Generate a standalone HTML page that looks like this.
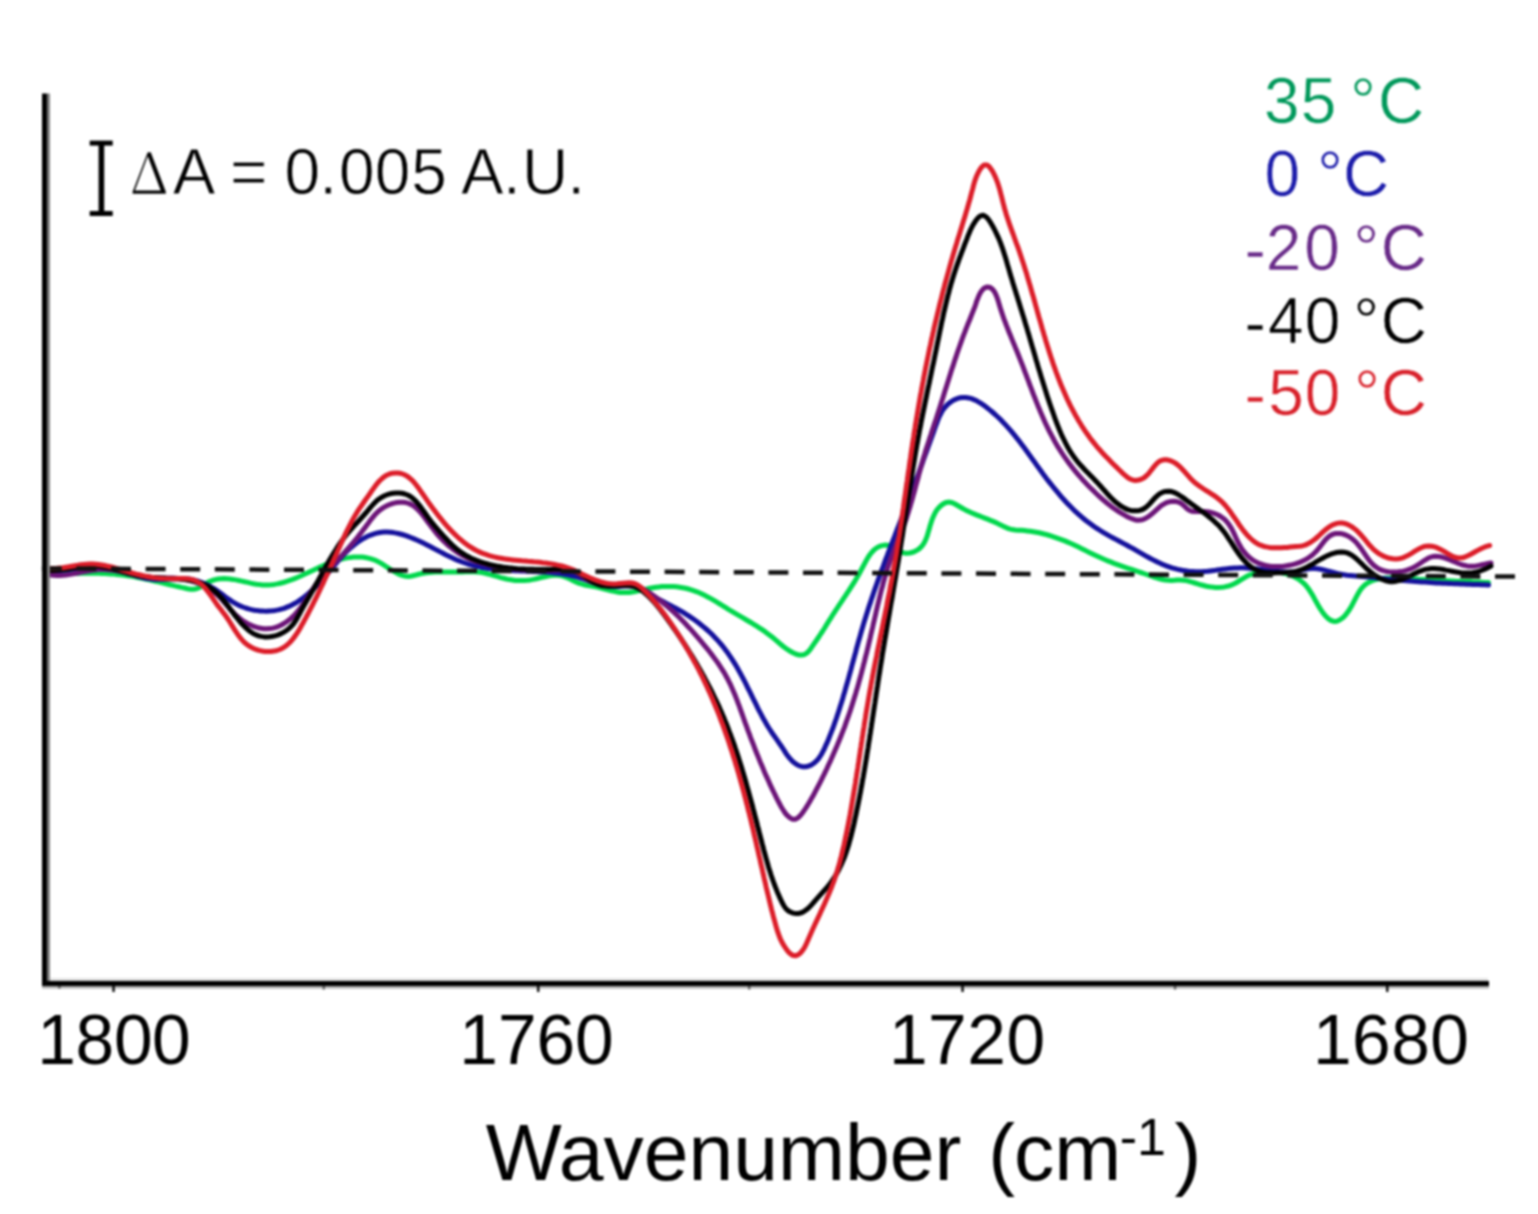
<!DOCTYPE html>
<html><head><meta charset="utf-8"><style>
html,body{margin:0;padding:0;background:#fff;}
svg{display:block;filter:blur(0.9px);}
text{font-family:"Liberation Sans",Arial,sans-serif;stroke:#fff;}
</style></head><body>
<svg width="1538" height="1214" viewBox="0 0 1538 1214">
<rect width="1538" height="1214" fill="#fff"/>
<g fill="none" stroke-linecap="round" stroke-linejoin="round" stroke-width="5.0">
<path d="M45.0 574.0 L48.0 574.0 L51.0 574.0 L54.0 573.9 L57.0 573.9 L60.0 573.8 L63.0 573.8 L66.0 573.7 L69.0 573.6 L72.0 573.5 L75.0 573.5 L78.0 573.4 L81.0 573.3 L84.0 573.3 L87.0 573.3 L90.0 573.2 L93.0 573.2 L96.0 573.3 L99.0 573.3 L102.0 573.4 L105.0 573.5 L108.0 573.7 L111.0 573.9 L114.0 574.1 L117.0 574.4 L119.9 574.7 L122.9 575.0 L125.9 575.5 L128.9 575.9 L131.8 576.4 L134.8 576.9 L137.7 577.5 L140.7 578.0 L143.6 578.6 L146.5 579.3 L149.5 579.9 L152.4 580.6 L155.3 581.2 L158.2 581.9 L161.2 582.6 L164.1 583.3 L167.0 584.0 L169.9 584.7 L172.8 585.4 L175.8 586.1 L178.7 586.7 L181.6 587.4 L184.5 588.0 L187.5 588.7 L190.4 589.2 L193.4 589.3 L196.4 588.8 L199.1 587.7 L201.7 586.1 L204.2 584.5 L206.8 582.9 L209.4 581.6 L212.2 580.5 L215.1 579.6 L218.1 579.0 L221.0 578.7 L224.0 578.6 L227.0 578.7 L230.0 579.0 L233.0 579.4 L235.9 579.9 L238.9 580.5 L241.8 581.1 L244.7 581.8 L247.7 582.4 L250.6 583.1 L253.5 583.7 L256.5 584.2 L259.5 584.6 L262.5 584.9 L265.5 585.0 L268.5 585.0 L271.4 584.8 L274.4 584.4 L277.4 583.9 L280.3 583.2 L283.2 582.5 L286.1 581.6 L288.9 580.7 L291.8 579.7 L294.6 578.6 L297.3 577.5 L300.1 576.3 L302.8 575.0 L305.5 573.8 L308.3 572.5 L311.0 571.2 L313.7 570.0 L316.4 568.7 L319.1 567.4 L321.9 566.2 L324.6 565.0 L327.4 563.8 L330.2 562.8 L333.0 561.7 L335.8 560.8 L338.7 559.9 L341.6 559.1 L344.5 558.4 L347.5 557.9 L350.4 557.4 L353.4 557.1 L356.4 556.9 L359.4 556.9 L362.4 557.1 L365.4 557.5 L368.3 558.1 L371.2 558.9 L374.1 559.8 L376.8 561.0 L379.5 562.4 L382.1 563.9 L384.6 565.5 L387.1 567.2 L389.6 568.8 L392.2 570.4 L394.7 571.9 L397.4 573.4 L400.1 574.6 L402.9 575.6 L405.9 576.3 L408.8 576.4 L411.8 576.0 L414.7 575.3 L417.6 574.5 L420.6 573.8 L423.5 573.2 L426.5 572.8 L429.4 572.4 L432.4 572.2 L435.4 572.1 L438.4 572.0 L441.4 572.0 L444.4 572.0 L447.4 572.0 L450.4 572.0 L453.4 572.1 L456.4 572.1 L459.4 572.0 L462.4 571.9 L465.4 571.8 L468.4 571.7 L471.4 571.6 L474.4 571.7 L477.4 571.9 L480.4 572.3 L483.3 572.8 L486.3 573.5 L489.2 574.2 L492.1 575.1 L494.9 575.9 L497.8 576.7 L500.7 577.6 L503.6 578.3 L506.5 579.0 L509.5 579.6 L512.4 580.0 L515.4 580.4 L518.4 580.6 L521.4 580.6 L524.4 580.5 L527.4 580.3 L530.4 579.9 L533.3 579.4 L536.3 578.7 L539.2 578.0 L542.1 577.3 L545.0 576.7 L548.0 576.1 L550.9 575.6 L553.9 575.3 L556.9 575.3 L559.9 575.5 L562.8 576.1 L565.7 577.1 L568.4 578.3 L571.1 579.6 L573.8 581.0 L576.5 582.2 L579.3 583.4 L582.2 584.2 L585.1 585.0 L588.0 585.5 L591.0 586.1 L593.9 586.6 L596.9 587.1 L599.8 587.8 L602.7 588.5 L605.6 589.3 L608.5 590.0 L611.4 590.7 L614.4 591.4 L617.3 592.0 L620.3 592.4 L623.3 592.6 L626.3 592.6 L629.2 592.5 L632.2 592.1 L635.2 591.5 L638.1 590.9 L641.0 590.2 L644.0 589.5 L646.9 588.9 L649.8 588.2 L652.8 587.7 L655.7 587.2 L658.7 586.9 L661.7 586.6 L664.7 586.5 L667.7 586.4 L670.7 586.4 L673.7 586.6 L676.7 586.8 L679.7 587.2 L682.6 587.7 L685.6 588.3 L688.5 589.0 L691.3 589.8 L694.2 590.8 L697.0 591.8 L699.8 593.0 L702.5 594.3 L705.2 595.6 L707.8 597.0 L710.5 598.4 L713.1 599.9 L715.7 601.4 L718.2 603.0 L720.8 604.5 L723.3 606.1 L725.9 607.7 L728.4 609.3 L731.0 610.8 L733.6 612.4 L736.1 613.9 L738.7 615.4 L741.3 616.9 L743.9 618.4 L746.5 620.0 L749.1 621.5 L751.7 623.0 L754.2 624.6 L756.8 626.2 L759.3 627.8 L761.8 629.4 L764.3 631.1 L766.7 632.9 L769.1 634.7 L771.5 636.5 L773.8 638.4 L776.1 640.4 L778.4 642.3 L780.7 644.3 L783.0 646.2 L785.4 648.0 L787.8 649.7 L790.3 651.3 L793.0 652.8 L795.7 654.0 L798.6 654.9 L801.6 655.1 L804.5 654.5 L807.0 652.9 L809.1 650.8 L810.9 648.4 L812.6 645.9 L814.3 643.4 L816.0 641.0 L817.7 638.5 L819.4 636.0 L821.0 633.5 L822.7 631.0 L824.3 628.5 L825.8 625.9 L827.4 623.4 L829.0 620.8 L830.6 618.3 L832.2 615.7 L833.9 613.2 L835.5 610.7 L837.2 608.2 L838.8 605.7 L840.5 603.2 L842.2 600.7 L843.8 598.2 L845.5 595.7 L847.1 593.2 L848.8 590.7 L850.4 588.2 L852.0 585.7 L853.6 583.1 L855.2 580.6 L856.7 578.0 L858.2 575.4 L859.7 572.8 L861.1 570.1 L862.5 567.5 L863.9 564.8 L865.3 562.2 L866.8 559.6 L868.3 557.0 L870.0 554.5 L871.9 552.2 L873.9 550.0 L876.3 548.1 L878.9 546.6 L881.7 545.6 L884.6 545.1 L887.6 545.2 L890.5 546.0 L893.2 547.4 L895.7 548.9 L898.3 550.6 L900.9 552.0 L903.8 552.9 L906.7 553.2 L909.7 553.0 L912.6 552.3 L915.4 551.2 L918.0 549.7 L920.3 547.8 L922.3 545.6 L924.0 543.1 L925.4 540.4 L926.5 537.6 L927.5 534.8 L928.3 531.9 L929.2 529.0 L930.0 526.1 L930.9 523.3 L931.8 520.4 L932.9 517.6 L934.1 514.9 L935.5 512.2 L937.1 509.7 L939.1 507.4 L941.2 505.4 L943.7 503.6 L946.4 502.4 L949.4 502.1 L952.3 502.7 L955.0 504.0 L957.6 505.5 L960.2 507.0 L962.8 508.5 L965.4 509.9 L968.1 511.2 L970.9 512.5 L973.6 513.7 L976.4 514.8 L979.2 515.9 L982.0 517.0 L984.8 518.1 L987.6 519.2 L990.4 520.3 L993.1 521.4 L995.9 522.6 L998.6 523.9 L1001.3 525.2 L1004.0 526.6 L1006.7 527.8 L1009.5 528.9 L1012.4 529.6 L1015.4 530.0 L1018.4 530.2 L1021.4 530.3 L1024.4 530.6 L1027.3 530.9 L1030.3 531.2 L1033.3 531.7 L1036.2 532.2 L1039.2 532.8 L1042.1 533.5 L1045.0 534.2 L1047.9 535.0 L1050.8 535.9 L1053.6 536.8 L1056.5 537.8 L1059.3 538.8 L1062.1 539.8 L1064.9 540.9 L1067.7 542.1 L1070.4 543.3 L1073.2 544.5 L1075.9 545.8 L1078.6 547.1 L1081.3 548.4 L1084.0 549.7 L1086.7 551.1 L1089.3 552.4 L1092.0 553.7 L1094.7 555.0 L1097.4 556.3 L1100.2 557.6 L1102.9 558.8 L1105.7 560.0 L1108.4 561.1 L1111.2 562.2 L1114.0 563.3 L1116.8 564.3 L1119.7 565.3 L1122.5 566.3 L1125.3 567.3 L1128.2 568.3 L1131.0 569.2 L1133.9 570.2 L1136.7 571.1 L1139.6 572.1 L1142.4 573.0 L1145.2 574.0 L1148.1 575.0 L1150.9 576.0 L1153.7 577.0 L1156.6 577.9 L1159.5 578.8 L1162.4 579.5 L1165.3 580.0 L1168.3 580.3 L1171.3 580.4 L1174.3 580.3 L1177.3 580.1 L1180.3 580.0 L1183.3 580.2 L1186.3 580.6 L1189.2 581.3 L1192.1 582.1 L1194.9 583.0 L1197.8 583.9 L1200.7 584.8 L1203.6 585.5 L1206.5 586.2 L1209.5 586.7 L1212.4 587.1 L1215.4 587.4 L1218.4 587.4 L1221.4 587.3 L1224.4 586.9 L1227.3 586.3 L1230.2 585.5 L1233.0 584.4 L1235.7 583.0 L1238.2 581.5 L1240.8 579.9 L1243.3 578.3 L1245.9 576.8 L1248.6 575.4 L1251.4 574.3 L1254.3 573.5 L1257.2 572.8 L1260.1 572.3 L1263.1 572.0 L1266.1 571.8 L1269.1 571.7 L1272.1 571.7 L1275.1 571.9 L1278.1 572.2 L1281.1 572.6 L1284.0 573.2 L1286.9 574.0 L1289.7 574.9 L1292.5 576.0 L1295.2 577.3 L1297.9 578.8 L1300.3 580.5 L1302.7 582.4 L1304.9 584.4 L1306.8 586.7 L1308.7 589.1 L1310.3 591.6 L1311.9 594.1 L1313.4 596.7 L1314.8 599.4 L1316.3 602.0 L1317.7 604.6 L1319.2 607.2 L1320.8 609.7 L1322.5 612.2 L1324.4 614.6 L1326.3 616.8 L1328.5 618.9 L1331.1 620.5 L1333.9 621.4 L1336.9 621.2 L1339.6 620.0 L1342.1 618.3 L1344.3 616.3 L1346.3 614.0 L1348.1 611.6 L1349.7 609.1 L1351.3 606.5 L1352.7 603.9 L1354.1 601.2 L1355.4 598.6 L1356.8 595.9 L1358.3 593.3 L1359.8 590.7 L1361.6 588.3 L1363.6 586.1 L1365.9 584.1 L1368.4 582.5 L1371.1 581.2 L1373.9 580.2 L1376.8 579.4 L1379.8 578.8 L1382.7 578.4 L1385.7 578.1 L1388.7 577.9 L1391.7 577.8 L1394.7 577.7 L1397.7 577.8 L1400.7 577.9 L1403.7 578.0 L1406.7 578.2 L1409.7 578.5 L1412.7 578.7 L1415.7 578.9 L1418.6 579.2 L1421.6 579.4 L1424.6 579.6 L1427.6 579.8 L1430.6 580.0 L1433.6 580.1 L1436.6 580.3 L1439.6 580.4 L1442.6 580.6 L1445.6 580.7 L1448.6 580.8 L1451.6 580.9 L1454.6 581.1 L1457.6 581.2 L1460.6 581.3 L1463.6 581.4 L1466.6 581.5 L1469.6 581.6 L1472.6 581.8 L1475.6 581.9 L1478.6 582.0 L1481.6 582.2 L1484.6 582.4 L1487.6 582.5 L1488.5 582.6" stroke="#00d84c"/>
<path d="M45.0 571.0 L48.0 571.2 L51.0 571.2 L54.0 571.1 L57.0 570.9 L60.0 570.6 L63.0 570.3 L65.9 569.9 L68.9 569.5 L71.9 569.0 L74.8 568.6 L77.8 568.2 L80.8 567.8 L83.8 567.5 L86.7 567.2 L89.7 567.1 L92.7 567.0 L95.7 567.1 L98.7 567.3 L101.7 567.6 L104.7 568.0 L107.7 568.5 L110.6 569.0 L113.5 569.6 L116.5 570.3 L119.4 571.1 L122.3 571.9 L125.1 572.7 L128.0 573.5 L130.9 574.4 L133.8 575.2 L136.7 576.1 L139.6 576.8 L142.5 577.5 L145.4 578.2 L148.4 578.7 L151.3 579.1 L154.3 579.4 L157.3 579.5 L160.3 579.5 L163.3 579.4 L166.3 579.3 L169.3 579.1 L172.3 578.9 L175.3 578.7 L178.3 578.6 L181.3 578.6 L184.3 578.7 L187.3 578.9 L190.2 579.3 L193.2 579.9 L196.1 580.6 L199.0 581.5 L201.8 582.5 L204.6 583.7 L207.3 584.9 L210.0 586.3 L212.6 587.8 L215.1 589.4 L217.6 591.1 L220.0 592.8 L222.4 594.6 L224.8 596.4 L227.3 598.2 L229.7 599.9 L232.2 601.6 L234.8 603.1 L237.4 604.6 L240.1 605.9 L242.9 607.0 L245.7 608.0 L248.6 608.9 L251.5 609.6 L254.4 610.2 L257.4 610.6 L260.4 610.9 L263.4 611.1 L266.4 611.2 L269.4 611.0 L272.4 610.8 L275.3 610.4 L278.3 609.9 L281.2 609.1 L284.1 608.3 L286.9 607.2 L289.6 606.1 L292.3 604.7 L295.0 603.3 L297.5 601.8 L300.0 600.1 L302.5 598.4 L304.9 596.5 L307.2 594.6 L309.4 592.7 L311.7 590.6 L313.8 588.6 L315.9 586.4 L318.0 584.3 L320.1 582.1 L322.1 579.8 L324.1 577.6 L326.0 575.3 L328.0 573.0 L329.9 570.7 L331.8 568.4 L333.7 566.1 L335.6 563.8 L337.6 561.5 L339.5 559.2 L341.5 557.0 L343.5 554.8 L345.6 552.6 L347.7 550.5 L349.9 548.4 L352.2 546.5 L354.5 544.6 L356.9 542.7 L359.3 541.0 L361.9 539.4 L364.5 537.9 L367.1 536.6 L369.9 535.3 L372.7 534.3 L375.6 533.4 L378.5 532.7 L381.5 532.3 L384.4 532.1 L387.4 532.1 L390.4 532.3 L393.4 532.6 L396.4 533.1 L399.3 533.8 L402.2 534.5 L405.1 535.4 L407.9 536.4 L410.7 537.5 L413.5 538.6 L416.2 539.8 L419.0 541.0 L421.7 542.3 L424.4 543.6 L427.1 545.0 L429.7 546.3 L432.4 547.7 L435.0 549.1 L437.7 550.5 L440.3 551.9 L443.0 553.3 L445.7 554.7 L448.4 556.0 L451.1 557.3 L453.8 558.6 L456.5 559.8 L459.3 560.9 L462.1 562.0 L464.9 563.0 L467.8 564.0 L470.7 564.8 L473.6 565.6 L476.5 566.3 L479.4 566.9 L482.4 567.5 L485.3 568.0 L488.3 568.4 L491.3 568.8 L494.2 569.1 L497.2 569.5 L500.2 569.7 L503.2 570.0 L506.2 570.2 L509.2 570.4 L512.2 570.5 L515.2 570.7 L518.2 570.8 L521.2 570.9 L524.2 571.0 L527.2 571.2 L530.2 571.3 L533.2 571.4 L536.2 571.6 L539.2 571.7 L542.1 571.9 L545.1 572.1 L548.1 572.3 L551.1 572.6 L554.1 572.9 L557.1 573.3 L560.1 573.6 L563.0 574.1 L566.0 574.6 L568.9 575.1 L571.9 575.7 L574.8 576.4 L577.7 577.2 L580.6 578.0 L583.4 578.9 L586.3 579.8 L589.1 580.8 L592.0 581.8 L594.8 582.7 L597.7 583.6 L600.6 584.5 L603.5 585.2 L606.4 585.8 L609.4 586.2 L612.4 586.5 L615.4 586.6 L618.4 586.5 L621.3 586.3 L624.3 586.1 L627.3 585.9 L630.3 585.9 L633.3 586.2 L636.2 587.0 L639.0 588.2 L641.6 589.6 L644.2 591.2 L646.7 592.7 L649.3 594.2 L651.9 595.7 L654.6 597.1 L657.2 598.6 L659.9 600.0 L662.5 601.3 L665.2 602.7 L667.9 604.1 L670.5 605.5 L673.2 606.9 L675.8 608.3 L678.4 609.7 L681.1 611.2 L683.6 612.7 L686.2 614.3 L688.7 615.9 L691.2 617.6 L693.7 619.3 L696.1 621.0 L698.5 622.8 L700.9 624.7 L703.2 626.6 L705.5 628.5 L707.8 630.5 L710.0 632.5 L712.1 634.6 L714.2 636.7 L716.3 638.9 L718.3 641.1 L720.3 643.4 L722.2 645.7 L724.1 648.0 L725.9 650.4 L727.7 652.8 L729.4 655.3 L731.1 657.8 L732.7 660.3 L734.3 662.9 L735.9 665.4 L737.4 668.0 L738.8 670.6 L740.3 673.3 L741.7 675.9 L743.1 678.5 L744.5 681.2 L745.9 683.9 L747.2 686.6 L748.5 689.3 L749.9 691.9 L751.2 694.6 L752.5 697.3 L753.8 700.0 L755.2 702.7 L756.5 705.4 L757.8 708.1 L759.2 710.8 L760.6 713.4 L762.0 716.1 L763.4 718.7 L764.9 721.3 L766.4 723.9 L767.9 726.5 L769.5 729.0 L771.2 731.6 L772.8 734.0 L774.6 736.5 L776.3 738.9 L778.0 741.4 L779.7 743.9 L781.4 746.3 L783.1 748.8 L784.7 751.4 L786.3 753.9 L788.1 756.3 L790.0 758.6 L792.0 760.8 L794.3 762.8 L796.7 764.5 L799.4 765.9 L802.3 766.7 L805.3 766.8 L808.2 766.2 L811.0 765.1 L813.5 763.5 L815.8 761.6 L817.9 759.4 L819.7 757.0 L821.3 754.5 L822.7 751.8 L824.1 749.2 L825.3 746.4 L826.6 743.7 L827.8 740.9 L828.9 738.2 L830.0 735.4 L831.1 732.6 L832.2 729.8 L833.3 727.0 L834.3 724.2 L835.3 721.3 L836.3 718.5 L837.2 715.7 L838.2 712.8 L839.1 710.0 L840.0 707.1 L840.9 704.3 L841.8 701.4 L842.7 698.5 L843.5 695.6 L844.4 692.8 L845.2 689.9 L846.0 687.0 L846.9 684.1 L847.7 681.2 L848.5 678.3 L849.3 675.4 L850.1 672.5 L850.9 669.6 L851.6 666.8 L852.4 663.9 L853.2 661.0 L854.0 658.1 L854.8 655.2 L855.6 652.3 L856.3 649.4 L857.1 646.5 L857.9 643.6 L858.7 640.7 L859.6 637.8 L860.4 634.9 L861.2 632.0 L862.0 629.2 L862.9 626.3 L863.7 623.4 L864.6 620.5 L865.5 617.7 L866.4 614.8 L867.3 612.0 L868.2 609.1 L869.1 606.2 L870.1 603.4 L871.0 600.5 L872.0 597.7 L872.9 594.9 L873.9 592.0 L874.9 589.2 L875.9 586.4 L876.9 583.5 L877.9 580.7 L878.9 577.9 L879.9 575.1 L881.0 572.2 L882.0 569.4 L883.1 566.6 L884.1 563.8 L885.1 561.0 L886.2 558.2 L887.3 555.4 L888.3 552.6 L889.4 549.8 L890.5 547.0 L891.5 544.2 L892.6 541.4 L893.7 538.6 L894.8 535.8 L895.9 533.0 L896.9 530.2 L898.0 527.4 L899.1 524.6 L900.2 521.8 L901.3 519.0 L902.3 516.2 L903.4 513.4 L904.5 510.6 L905.6 507.8 L906.7 505.0 L907.7 502.2 L908.8 499.4 L909.9 496.6 L910.9 493.8 L912.0 491.0 L913.0 488.2 L914.1 485.3 L915.1 482.5 L916.2 479.7 L917.2 476.9 L918.3 474.1 L919.3 471.3 L920.3 468.5 L921.4 465.6 L922.4 462.8 L923.4 460.0 L924.4 457.2 L925.4 454.4 L926.5 451.5 L927.5 448.7 L928.5 445.9 L929.5 443.1 L930.5 440.3 L931.6 437.4 L932.6 434.6 L933.6 431.8 L934.6 429.0 L935.6 426.1 L936.7 423.3 L937.7 420.5 L938.8 417.7 L940.1 415.0 L941.5 412.3 L943.0 409.8 L944.9 407.4 L946.9 405.2 L949.1 403.2 L951.5 401.4 L954.1 399.9 L956.9 398.7 L959.7 397.8 L962.7 397.4 L965.7 397.5 L968.7 397.9 L971.6 398.7 L974.4 399.8 L977.1 401.1 L979.7 402.6 L982.2 404.2 L984.7 405.9 L987.0 407.7 L989.4 409.6 L991.7 411.5 L994.0 413.5 L996.2 415.5 L998.4 417.5 L1000.5 419.6 L1002.6 421.8 L1004.7 423.9 L1006.7 426.1 L1008.7 428.4 L1010.7 430.6 L1012.6 432.9 L1014.6 435.3 L1016.4 437.6 L1018.3 439.9 L1020.1 442.3 L1021.9 444.7 L1023.7 447.1 L1025.5 449.5 L1027.3 452.0 L1029.0 454.4 L1030.8 456.8 L1032.5 459.3 L1034.3 461.7 L1036.0 464.2 L1037.7 466.6 L1039.5 469.0 L1041.3 471.5 L1043.0 473.9 L1044.8 476.3 L1046.6 478.7 L1048.5 481.1 L1050.3 483.4 L1052.2 485.8 L1054.1 488.1 L1056.0 490.4 L1057.9 492.7 L1059.8 495.0 L1061.8 497.3 L1063.8 499.5 L1065.8 501.7 L1067.9 503.9 L1070.0 506.1 L1072.1 508.2 L1074.2 510.3 L1076.4 512.3 L1078.6 514.4 L1080.9 516.3 L1083.2 518.3 L1085.5 520.2 L1087.9 522.0 L1090.3 523.8 L1092.7 525.6 L1095.2 527.3 L1097.7 528.9 L1100.2 530.5 L1102.8 532.1 L1105.4 533.6 L1108.0 535.1 L1110.6 536.6 L1113.2 538.0 L1115.9 539.4 L1118.5 540.8 L1121.2 542.2 L1123.8 543.6 L1126.5 545.0 L1129.1 546.5 L1131.7 547.9 L1134.4 549.3 L1137.0 550.8 L1139.6 552.3 L1142.2 553.8 L1144.8 555.3 L1147.4 556.8 L1150.0 558.2 L1152.7 559.6 L1155.4 561.0 L1158.0 562.3 L1160.8 563.6 L1163.5 564.7 L1166.3 565.8 L1169.1 566.8 L1172.0 567.8 L1174.9 568.6 L1177.8 569.4 L1180.7 570.0 L1183.7 570.6 L1186.6 571.0 L1189.6 571.4 L1192.6 571.6 L1195.6 571.8 L1198.6 571.8 L1201.6 571.7 L1204.6 571.5 L1207.6 571.3 L1210.5 570.9 L1213.5 570.6 L1216.5 570.1 L1219.5 569.7 L1222.4 569.3 L1225.4 568.9 L1228.4 568.6 L1231.4 568.2 L1234.4 568.0 L1237.4 567.9 L1240.4 567.8 L1243.4 567.8 L1246.4 568.0 L1249.4 568.2 L1252.3 568.4 L1255.3 568.7 L1258.3 569.1 L1261.3 569.4 L1264.3 569.8 L1267.2 570.2 L1270.2 570.6 L1273.2 571.0 L1276.2 571.3 L1279.2 571.6 L1282.1 571.8 L1285.1 572.0 L1288.1 572.0 L1291.1 571.9 L1294.1 571.7 L1297.1 571.2 L1300.0 570.6 L1302.9 569.9 L1305.9 569.2 L1308.8 568.7 L1311.8 568.5 L1314.8 568.5 L1317.8 568.8 L1320.8 569.3 L1323.7 569.9 L1326.6 570.7 L1329.5 571.4 L1332.4 572.2 L1335.3 573.0 L1338.2 573.7 L1341.2 574.3 L1344.1 574.8 L1347.1 575.2 L1350.1 575.5 L1353.0 575.8 L1356.0 576.1 L1359.0 576.3 L1362.0 576.6 L1365.0 576.8 L1368.0 577.1 L1371.0 577.3 L1374.0 577.6 L1377.0 577.9 L1379.9 578.2 L1382.9 578.6 L1385.9 578.9 L1388.9 579.2 L1391.9 579.5 L1394.9 579.8 L1397.8 580.1 L1400.8 580.3 L1403.8 580.6 L1406.8 580.8 L1409.8 581.1 L1412.8 581.3 L1415.8 581.5 L1418.8 581.7 L1421.8 582.0 L1424.8 582.1 L1427.8 582.3 L1430.8 582.5 L1433.7 582.7 L1436.7 582.9 L1439.7 583.0 L1442.7 583.2 L1445.7 583.3 L1448.7 583.4 L1451.7 583.6 L1454.7 583.7 L1457.7 583.8 L1460.7 584.0 L1463.7 584.1 L1466.7 584.2 L1469.7 584.3 L1472.7 584.4 L1475.7 584.5 L1478.7 584.6 L1481.7 584.7 L1484.7 584.8 L1487.7 584.9 L1488.5 584.9" stroke="#14109c"/>
<path d="M45.0 573.5 L47.9 574.3 L50.8 574.9 L53.8 575.2 L56.8 575.4 L59.8 575.4 L62.8 575.2 L65.8 575.0 L68.8 574.6 L71.7 574.1 L74.7 573.5 L77.6 573.0 L80.6 572.4 L83.5 571.8 L86.5 571.2 L89.4 570.7 L92.4 570.2 L95.3 569.9 L98.3 569.6 L101.3 569.5 L104.3 569.5 L107.3 569.7 L110.3 570.0 L113.3 570.3 L116.3 570.8 L119.2 571.3 L122.2 571.9 L125.1 572.5 L128.0 573.1 L131.0 573.7 L133.9 574.3 L136.8 575.0 L139.8 575.5 L142.7 576.1 L145.7 576.6 L148.7 577.0 L151.7 577.3 L154.6 577.5 L157.6 577.7 L160.6 577.8 L163.6 577.9 L166.6 577.9 L169.6 578.0 L172.6 578.1 L175.6 578.3 L178.6 578.5 L181.6 578.9 L184.6 579.3 L187.5 579.9 L190.4 580.5 L193.3 581.4 L196.2 582.3 L199.0 583.4 L201.7 584.5 L204.4 585.8 L207.1 587.3 L209.6 588.8 L212.1 590.5 L214.5 592.3 L216.8 594.3 L219.0 596.3 L221.0 598.5 L223.0 600.7 L225.0 603.0 L226.9 605.3 L228.9 607.6 L230.8 609.9 L232.9 612.1 L235.0 614.2 L237.2 616.3 L239.5 618.2 L241.8 620.0 L244.3 621.7 L246.9 623.2 L249.6 624.6 L252.3 625.8 L255.1 626.9 L258.0 627.7 L260.9 628.3 L263.9 628.7 L266.9 628.8 L269.9 628.6 L272.8 628.1 L275.7 627.3 L278.6 626.3 L281.3 625.0 L283.9 623.5 L286.4 621.9 L288.8 620.1 L291.1 618.2 L293.3 616.2 L295.4 614.0 L297.4 611.7 L299.3 609.4 L301.1 607.0 L302.8 604.6 L304.5 602.1 L306.1 599.6 L307.8 597.1 L309.4 594.5 L311.0 592.0 L312.6 589.5 L314.3 587.0 L316.0 584.5 L317.8 582.1 L319.6 579.8 L321.5 577.4 L323.5 575.1 L325.5 572.9 L327.5 570.7 L329.5 568.5 L331.6 566.3 L333.6 564.1 L335.7 561.9 L337.8 559.8 L339.8 557.6 L341.9 555.4 L343.9 553.2 L345.9 550.9 L347.9 548.7 L349.9 546.4 L351.8 544.2 L353.8 541.9 L355.7 539.6 L357.6 537.2 L359.4 534.9 L361.3 532.5 L363.1 530.1 L364.9 527.7 L366.7 525.3 L368.5 522.9 L370.2 520.5 L372.1 518.1 L374.0 515.8 L376.0 513.6 L378.2 511.5 L380.5 509.6 L383.0 507.9 L385.5 506.4 L388.2 505.1 L391.0 504.0 L393.9 503.1 L396.8 502.5 L399.8 502.2 L402.8 502.3 L405.8 502.6 L408.7 503.4 L411.4 504.6 L414.0 506.2 L416.3 508.1 L418.5 510.2 L420.5 512.4 L422.4 514.7 L424.2 517.1 L426.0 519.5 L427.8 521.9 L429.6 524.3 L431.4 526.7 L433.2 529.1 L435.0 531.5 L436.9 533.8 L438.9 536.1 L440.9 538.3 L443.0 540.4 L445.1 542.5 L447.4 544.6 L449.6 546.5 L452.0 548.4 L454.4 550.2 L456.8 551.9 L459.3 553.6 L461.9 555.1 L464.5 556.6 L467.2 557.9 L470.0 559.1 L472.7 560.2 L475.5 561.3 L478.4 562.2 L481.3 563.1 L484.2 563.9 L487.1 564.6 L490.0 565.3 L492.9 565.9 L495.9 566.5 L498.8 567.0 L501.8 567.5 L504.8 567.9 L507.7 568.3 L510.7 568.7 L513.7 569.1 L516.7 569.4 L519.7 569.6 L522.6 569.9 L525.6 570.0 L528.6 570.2 L531.6 570.3 L534.6 570.4 L537.6 570.5 L540.6 570.5 L543.6 570.5 L546.6 570.5 L549.6 570.4 L552.6 570.3 L555.6 570.2 L558.6 570.1 L561.6 569.9 L564.6 569.9 L567.6 570.1 L570.6 570.5 L573.5 571.2 L576.3 572.3 L578.9 573.8 L581.3 575.5 L583.8 577.3 L586.2 579.0 L588.8 580.6 L591.5 581.9 L594.3 582.9 L597.2 583.6 L600.2 584.1 L603.2 584.4 L606.2 584.5 L609.2 584.6 L612.2 584.5 L615.2 584.4 L618.2 584.4 L621.2 584.3 L624.2 584.4 L627.2 584.5 L630.1 584.8 L633.1 585.3 L636.0 586.1 L638.8 587.1 L641.6 588.3 L644.2 589.7 L646.8 591.2 L649.4 592.8 L651.9 594.5 L654.3 596.2 L656.7 598.0 L659.1 599.8 L661.5 601.6 L663.8 603.5 L666.1 605.4 L668.4 607.3 L670.7 609.3 L672.9 611.3 L675.1 613.4 L677.3 615.5 L679.4 617.6 L681.5 619.7 L683.6 621.8 L685.7 624.0 L687.7 626.2 L689.8 628.4 L691.8 630.6 L693.8 632.9 L695.7 635.1 L697.7 637.4 L699.6 639.7 L701.6 642.0 L703.5 644.3 L705.4 646.6 L707.3 648.9 L709.2 651.3 L711.0 653.6 L712.8 656.0 L714.6 658.4 L716.4 660.9 L718.1 663.3 L719.8 665.8 L721.4 668.3 L723.0 670.9 L724.6 673.4 L726.0 676.0 L727.5 678.7 L728.8 681.4 L730.2 684.0 L731.4 686.8 L732.6 689.5 L733.8 692.3 L735.0 695.0 L736.1 697.8 L737.2 700.6 L738.2 703.4 L739.3 706.2 L740.3 709.1 L741.3 711.9 L742.3 714.7 L743.3 717.5 L744.3 720.4 L745.3 723.2 L746.4 726.0 L747.4 728.8 L748.4 731.6 L749.5 734.4 L750.5 737.3 L751.6 740.1 L752.7 742.9 L753.8 745.7 L754.8 748.5 L755.9 751.2 L757.0 754.0 L758.2 756.8 L759.3 759.6 L760.4 762.4 L761.6 765.1 L762.8 767.9 L763.9 770.7 L765.1 773.4 L766.3 776.2 L767.6 778.9 L768.8 781.6 L770.0 784.4 L771.3 787.1 L772.6 789.8 L773.9 792.5 L775.2 795.2 L776.5 797.9 L777.9 800.6 L779.3 803.2 L780.7 805.9 L782.2 808.5 L783.8 811.0 L785.5 813.5 L787.5 815.7 L789.7 817.7 L792.3 819.2 L795.3 819.3 L797.9 817.9 L800.1 815.8 L802.0 813.5 L803.7 811.1 L805.4 808.6 L807.0 806.1 L808.6 803.5 L810.1 800.9 L811.6 798.3 L813.1 795.7 L814.5 793.1 L815.9 790.4 L817.3 787.8 L818.7 785.1 L820.1 782.5 L821.4 779.8 L822.7 777.1 L824.1 774.4 L825.4 771.7 L826.7 769.0 L827.9 766.3 L829.2 763.5 L830.5 760.8 L831.7 758.1 L832.9 755.3 L834.1 752.6 L835.3 749.8 L836.5 747.1 L837.6 744.3 L838.8 741.5 L839.9 738.8 L841.0 736.0 L842.1 733.2 L843.2 730.4 L844.3 727.6 L845.3 724.8 L846.3 721.9 L847.3 719.1 L848.3 716.3 L849.3 713.5 L850.3 710.6 L851.2 707.8 L852.1 704.9 L853.0 702.0 L853.9 699.2 L854.8 696.3 L855.7 693.4 L856.5 690.6 L857.4 687.7 L858.2 684.8 L859.0 681.9 L859.8 679.0 L860.6 676.1 L861.4 673.2 L862.1 670.3 L862.9 667.4 L863.6 664.5 L864.4 661.6 L865.1 658.7 L865.8 655.8 L866.6 652.9 L867.3 650.0 L868.0 647.1 L868.7 644.1 L869.4 641.2 L870.1 638.3 L870.7 635.4 L871.4 632.5 L872.1 629.5 L872.8 626.6 L873.4 623.7 L874.1 620.8 L874.8 617.8 L875.5 614.9 L876.1 612.0 L876.8 609.1 L877.5 606.1 L878.2 603.2 L878.9 600.3 L879.6 597.4 L880.3 594.5 L881.0 591.6 L881.8 588.7 L882.6 585.8 L883.3 582.9 L884.1 580.0 L884.9 577.1 L885.8 574.2 L886.6 571.3 L887.5 568.5 L888.4 565.6 L889.4 562.8 L890.4 559.9 L891.4 557.1 L892.4 554.3 L893.5 551.5 L894.5 548.7 L895.7 545.9 L896.8 543.1 L897.9 540.3 L899.1 537.6 L900.2 534.8 L901.3 532.0 L902.4 529.2 L903.5 526.4 L904.5 523.6 L905.5 520.8 L906.5 517.9 L907.4 515.1 L908.3 512.2 L909.2 509.3 L910.1 506.5 L910.9 503.6 L911.8 500.7 L912.6 497.8 L913.4 494.9 L914.2 492.0 L915.0 489.1 L915.7 486.2 L916.5 483.4 L917.3 480.5 L918.1 477.6 L918.8 474.7 L919.6 471.8 L920.4 468.9 L921.2 466.0 L922.0 463.1 L922.8 460.2 L923.7 457.3 L924.6 454.5 L925.4 451.6 L926.3 448.7 L927.2 445.9 L928.2 443.0 L929.1 440.2 L930.0 437.3 L931.0 434.5 L931.9 431.6 L932.8 428.8 L933.8 425.9 L934.7 423.1 L935.7 420.2 L936.6 417.4 L937.5 414.5 L938.5 411.7 L939.4 408.8 L940.3 405.9 L941.2 403.1 L942.1 400.2 L943.0 397.4 L943.9 394.5 L944.8 391.6 L945.7 388.8 L946.6 385.9 L947.5 383.1 L948.4 380.2 L949.3 377.3 L950.2 374.5 L951.1 371.6 L952.0 368.8 L953.0 365.9 L953.9 363.0 L954.8 360.2 L955.8 357.4 L956.7 354.5 L957.7 351.7 L958.7 348.8 L959.7 346.0 L960.7 343.2 L961.7 340.4 L962.7 337.5 L963.8 334.7 L964.9 331.9 L965.9 329.1 L967.0 326.3 L968.1 323.5 L969.3 320.8 L970.4 318.0 L971.5 315.2 L972.6 312.4 L973.7 309.6 L974.8 306.8 L975.8 304.0 L976.7 301.1 L977.8 298.3 L978.9 295.6 L980.3 292.9 L982.0 290.4 L984.0 288.2 L986.7 286.9 L989.6 287.2 L992.1 288.8 L994.0 291.1 L995.5 293.7 L996.7 296.5 L997.7 299.3 L998.6 302.2 L999.4 305.1 L1000.3 307.9 L1001.2 310.8 L1002.1 313.6 L1003.1 316.5 L1004.1 319.3 L1005.2 322.1 L1006.2 324.9 L1007.3 327.7 L1008.4 330.5 L1009.5 333.3 L1010.7 336.1 L1011.8 338.9 L1012.9 341.6 L1014.1 344.4 L1015.2 347.2 L1016.4 350.0 L1017.5 352.7 L1018.6 355.5 L1019.7 358.3 L1020.8 361.1 L1021.9 363.9 L1023.0 366.7 L1024.0 369.5 L1025.1 372.3 L1026.2 375.1 L1027.2 377.9 L1028.3 380.7 L1029.3 383.5 L1030.4 386.3 L1031.5 389.1 L1032.5 392.0 L1033.6 394.8 L1034.7 397.5 L1035.8 400.3 L1036.9 403.1 L1038.0 405.9 L1039.2 408.7 L1040.3 411.5 L1041.5 414.2 L1042.7 417.0 L1043.9 419.7 L1045.1 422.4 L1046.4 425.2 L1047.7 427.9 L1049.0 430.6 L1050.4 433.2 L1051.8 435.9 L1053.2 438.5 L1054.6 441.2 L1056.1 443.8 L1057.6 446.4 L1059.2 448.9 L1060.8 451.4 L1062.5 454.0 L1064.1 456.4 L1065.9 458.9 L1067.6 461.3 L1069.4 463.7 L1071.2 466.1 L1073.1 468.5 L1075.0 470.8 L1076.9 473.1 L1078.8 475.4 L1080.8 477.6 L1082.8 479.9 L1084.9 482.1 L1086.9 484.3 L1089.0 486.4 L1091.1 488.5 L1093.3 490.6 L1095.4 492.7 L1097.6 494.8 L1099.8 496.8 L1102.0 498.8 L1104.3 500.8 L1106.6 502.7 L1108.9 504.6 L1111.3 506.4 L1113.7 508.2 L1116.2 509.9 L1118.7 511.6 L1121.2 513.2 L1123.8 514.7 L1126.4 516.2 L1129.1 517.5 L1131.9 518.7 L1134.7 519.7 L1137.6 520.3 L1140.6 520.1 L1143.5 519.3 L1146.2 518.0 L1148.7 516.4 L1151.1 514.6 L1153.4 512.6 L1155.6 510.6 L1157.8 508.6 L1160.1 506.6 L1162.5 504.8 L1165.1 503.3 L1167.9 502.1 L1170.8 501.5 L1173.8 501.3 L1176.7 501.6 L1179.6 502.5 L1182.1 504.1 L1184.4 506.1 L1186.5 508.2 L1188.9 510.0 L1191.6 511.2 L1194.6 511.6 L1197.6 511.6 L1200.6 511.4 L1203.6 511.4 L1206.6 511.7 L1209.6 512.1 L1212.5 512.9 L1215.3 513.8 L1218.1 515.0 L1220.7 516.5 L1223.1 518.2 L1225.4 520.2 L1227.4 522.4 L1229.2 524.8 L1230.8 527.3 L1232.3 530.0 L1233.6 532.7 L1234.9 535.4 L1236.1 538.1 L1237.4 540.8 L1238.7 543.5 L1240.2 546.1 L1241.7 548.7 L1243.5 551.1 L1245.4 553.4 L1247.4 555.6 L1249.7 557.6 L1252.0 559.5 L1254.5 561.1 L1257.2 562.5 L1259.9 563.7 L1262.8 564.7 L1265.7 565.5 L1268.6 566.0 L1271.6 566.4 L1274.6 566.5 L1277.6 566.6 L1280.6 566.4 L1283.6 566.2 L1286.6 565.8 L1289.5 565.2 L1292.4 564.6 L1295.3 563.8 L1298.2 562.8 L1301.0 561.8 L1303.7 560.5 L1306.4 559.1 L1308.9 557.5 L1311.3 555.8 L1313.6 553.8 L1315.8 551.7 L1317.8 549.5 L1319.7 547.2 L1321.5 544.8 L1323.3 542.4 L1325.2 540.1 L1327.3 537.9 L1329.6 536.0 L1332.2 534.5 L1335.0 533.6 L1338.0 533.4 L1341.0 533.6 L1343.9 534.3 L1346.7 535.4 L1349.3 536.8 L1351.8 538.5 L1354.1 540.4 L1356.3 542.5 L1358.2 544.8 L1360.1 547.2 L1361.8 549.6 L1363.5 552.1 L1365.2 554.6 L1366.9 557.1 L1368.6 559.5 L1370.5 561.8 L1372.5 564.1 L1374.7 566.1 L1377.2 567.8 L1379.8 569.3 L1382.6 570.4 L1385.5 571.2 L1388.4 571.7 L1391.4 572.0 L1394.4 572.1 L1397.4 572.0 L1400.4 571.6 L1403.3 571.1 L1406.2 570.4 L1409.1 569.4 L1411.8 568.2 L1414.5 566.9 L1417.1 565.4 L1419.6 563.7 L1422.1 562.0 L1424.6 560.3 L1427.1 558.8 L1429.8 557.4 L1432.7 556.6 L1435.7 556.3 L1438.7 556.5 L1441.6 557.0 L1444.5 557.9 L1447.3 558.9 L1450.1 560.0 L1452.9 561.2 L1455.6 562.3 L1458.4 563.5 L1461.2 564.5 L1464.1 565.3 L1467.0 565.9 L1470.0 566.2 L1473.0 566.2 L1476.0 565.9 L1479.0 565.4 L1481.9 564.7 L1484.8 564.1 L1487.8 563.5 L1490.7 563.0 L1491.0 563.0" stroke="#6c1478"/>
<path d="M45.0 570.0 L48.0 570.3 L51.0 570.5 L54.0 570.4 L57.0 570.3 L60.0 570.0 L62.9 569.6 L65.9 569.2 L68.9 568.7 L71.8 568.2 L74.8 567.7 L77.7 567.2 L80.7 566.7 L83.7 566.4 L86.7 566.1 L89.7 565.9 L92.7 565.9 L95.7 566.0 L98.6 566.3 L101.6 566.7 L104.6 567.2 L107.5 567.8 L110.4 568.4 L113.3 569.2 L116.2 569.9 L119.1 570.7 L122.0 571.5 L124.9 572.4 L127.8 573.2 L130.7 573.9 L133.6 574.6 L136.5 575.3 L139.5 575.9 L142.4 576.4 L145.4 576.8 L148.4 577.1 L151.4 577.4 L154.4 577.6 L157.4 577.8 L160.4 578.0 L163.4 578.1 L166.4 578.3 L169.4 578.4 L172.4 578.6 L175.3 578.8 L178.3 579.0 L181.3 579.3 L184.3 579.6 L187.3 580.0 L190.2 580.5 L193.2 581.1 L196.1 581.8 L199.0 582.6 L201.8 583.5 L204.6 584.7 L207.3 586.0 L209.9 587.5 L212.4 589.2 L214.7 591.1 L216.9 593.1 L219.0 595.2 L221.1 597.4 L223.0 599.7 L224.9 602.1 L226.7 604.4 L228.6 606.8 L230.3 609.2 L232.1 611.6 L233.9 614.1 L235.7 616.4 L237.6 618.8 L239.5 621.1 L241.4 623.4 L243.5 625.6 L245.6 627.7 L247.9 629.7 L250.2 631.5 L252.7 633.2 L255.4 634.6 L258.2 635.7 L261.1 636.4 L264.1 636.9 L267.0 637.0 L270.0 636.8 L273.0 636.3 L275.9 635.6 L278.8 634.6 L281.5 633.4 L284.1 632.0 L286.6 630.4 L289.0 628.5 L291.2 626.4 L293.2 624.2 L294.9 621.8 L296.6 619.2 L298.0 616.6 L299.5 614.0 L300.8 611.3 L302.2 608.7 L303.7 606.0 L305.2 603.4 L306.7 600.9 L308.2 598.3 L309.7 595.7 L311.2 593.1 L312.7 590.5 L314.2 587.9 L315.6 585.2 L317.1 582.6 L318.5 580.0 L320.0 577.3 L321.4 574.7 L322.8 572.1 L324.3 569.4 L325.7 566.8 L327.2 564.2 L328.6 561.6 L330.1 559.0 L331.7 556.4 L333.2 553.8 L334.8 551.3 L336.4 548.7 L338.0 546.2 L339.7 543.8 L341.5 541.3 L343.2 538.9 L345.1 536.5 L346.9 534.2 L348.8 531.9 L350.8 529.6 L352.8 527.3 L354.8 525.1 L356.9 522.9 L358.9 520.7 L360.9 518.5 L362.9 516.3 L364.9 514.0 L366.9 511.8 L368.8 509.4 L370.7 507.1 L372.7 504.9 L374.7 502.7 L376.9 500.6 L379.3 498.8 L381.8 497.2 L384.5 495.8 L387.2 494.7 L390.1 493.8 L393.1 493.2 L396.0 492.9 L399.0 492.9 L402.0 493.3 L404.9 494.0 L407.7 495.0 L410.4 496.5 L412.8 498.3 L415.0 500.3 L417.1 502.5 L419.0 504.8 L420.8 507.1 L422.6 509.6 L424.3 512.0 L426.0 514.5 L427.7 516.9 L429.5 519.4 L431.3 521.7 L433.2 524.1 L435.1 526.4 L437.1 528.7 L439.0 530.9 L441.0 533.2 L443.0 535.4 L445.0 537.6 L447.1 539.8 L449.2 542.0 L451.3 544.1 L453.5 546.2 L455.7 548.1 L458.0 550.0 L460.5 551.8 L462.9 553.5 L465.5 555.1 L468.1 556.5 L470.8 557.9 L473.5 559.2 L476.3 560.3 L479.1 561.4 L481.9 562.3 L484.8 563.2 L487.7 564.0 L490.6 564.8 L493.5 565.4 L496.5 566.0 L499.4 566.5 L502.4 567.0 L505.3 567.4 L508.3 567.8 L511.3 568.1 L514.3 568.4 L517.3 568.7 L520.3 568.9 L523.3 569.0 L526.3 569.2 L529.3 569.3 L532.3 569.3 L535.3 569.4 L538.3 569.4 L541.3 569.4 L544.3 569.4 L547.3 569.4 L550.3 569.4 L553.3 569.3 L556.3 569.3 L559.3 569.3 L562.3 569.3 L565.3 569.4 L568.3 569.6 L571.2 570.1 L574.1 570.8 L576.9 571.9 L579.6 573.3 L582.2 574.8 L584.7 576.5 L587.1 578.2 L589.6 579.9 L592.1 581.5 L594.7 583.0 L597.4 584.3 L600.3 585.2 L603.2 585.8 L606.2 586.1 L609.2 586.2 L612.2 586.1 L615.2 585.9 L618.2 585.7 L621.2 585.5 L624.2 585.4 L627.2 585.4 L630.2 585.7 L633.1 586.2 L636.0 587.2 L638.6 588.5 L641.2 590.1 L643.6 591.9 L645.8 593.9 L648.1 595.9 L650.2 598.0 L652.3 600.2 L654.3 602.4 L656.2 604.7 L658.1 607.0 L660.0 609.3 L661.8 611.7 L663.6 614.1 L665.4 616.5 L667.2 619.0 L668.9 621.4 L670.7 623.8 L672.4 626.3 L674.1 628.7 L675.8 631.2 L677.5 633.7 L679.2 636.2 L680.9 638.7 L682.5 641.2 L684.2 643.7 L685.8 646.2 L687.4 648.7 L689.0 651.3 L690.6 653.8 L692.2 656.4 L693.7 658.9 L695.3 661.5 L696.8 664.1 L698.3 666.7 L699.8 669.3 L701.3 671.9 L702.7 674.5 L704.2 677.1 L705.6 679.8 L707.0 682.4 L708.4 685.1 L709.8 687.7 L711.2 690.4 L712.5 693.1 L713.8 695.8 L715.1 698.5 L716.4 701.2 L717.7 703.9 L719.0 706.6 L720.2 709.4 L721.4 712.1 L722.6 714.9 L723.8 717.6 L724.9 720.4 L726.1 723.2 L727.2 726.0 L728.3 728.8 L729.3 731.6 L730.4 734.4 L731.4 737.2 L732.5 740.0 L733.5 742.8 L734.5 745.6 L735.4 748.5 L736.4 751.3 L737.3 754.2 L738.3 757.0 L739.2 759.9 L740.1 762.7 L741.0 765.6 L741.9 768.5 L742.7 771.3 L743.6 774.2 L744.4 777.1 L745.3 780.0 L746.1 782.9 L746.9 785.8 L747.7 788.6 L748.5 791.5 L749.3 794.4 L750.1 797.3 L750.9 800.2 L751.7 803.1 L752.5 806.0 L753.2 808.9 L754.0 811.8 L754.7 814.7 L755.5 817.6 L756.2 820.5 L757.0 823.4 L757.7 826.3 L758.5 829.2 L759.2 832.1 L760.0 835.1 L760.7 838.0 L761.5 840.9 L762.2 843.8 L763.0 846.7 L763.7 849.6 L764.5 852.5 L765.3 855.4 L766.1 858.3 L766.9 861.2 L767.7 864.0 L768.5 866.9 L769.4 869.8 L770.3 872.6 L771.2 875.5 L772.2 878.3 L773.2 881.2 L774.2 884.0 L775.3 886.8 L776.4 889.6 L777.5 892.4 L778.7 895.1 L779.9 897.9 L781.2 900.6 L782.5 903.3 L783.9 905.9 L785.7 908.4 L787.8 910.5 L790.3 912.0 L793.2 913.1 L796.1 913.6 L799.1 913.4 L802.0 912.5 L804.6 911.1 L807.0 909.3 L809.2 907.3 L811.3 905.2 L813.3 902.9 L815.2 900.6 L817.2 898.4 L819.2 896.1 L821.2 893.9 L823.2 891.6 L825.2 889.4 L827.2 887.1 L829.1 884.8 L830.9 882.4 L832.6 880.0 L834.3 877.5 L835.9 874.9 L837.4 872.3 L838.8 869.7 L840.1 867.0 L841.4 864.3 L842.6 861.6 L843.8 858.8 L844.9 856.0 L845.9 853.2 L846.9 850.3 L847.8 847.5 L848.7 844.6 L849.5 841.7 L850.3 838.9 L851.1 835.9 L851.8 833.0 L852.5 830.1 L853.2 827.2 L853.9 824.3 L854.5 821.4 L855.1 818.4 L855.8 815.5 L856.4 812.6 L857.0 809.6 L857.6 806.7 L858.2 803.7 L858.8 800.8 L859.4 797.8 L859.9 794.9 L860.5 792.0 L861.0 789.0 L861.6 786.1 L862.1 783.1 L862.6 780.1 L863.2 777.2 L863.7 774.2 L864.2 771.3 L864.7 768.3 L865.2 765.4 L865.7 762.4 L866.2 759.4 L866.7 756.5 L867.1 753.5 L867.6 750.6 L868.1 747.6 L868.5 744.6 L869.0 741.7 L869.5 738.7 L869.9 735.7 L870.4 732.8 L870.8 729.8 L871.3 726.8 L871.7 723.9 L872.2 720.9 L872.6 717.9 L873.1 715.0 L873.5 712.0 L874.0 709.0 L874.4 706.1 L874.9 703.1 L875.3 700.1 L875.8 697.2 L876.2 694.2 L876.7 691.2 L877.1 688.3 L877.6 685.3 L878.0 682.4 L878.5 679.4 L878.9 676.4 L879.4 673.5 L879.9 670.5 L880.3 667.5 L880.8 664.6 L881.3 661.6 L881.8 658.6 L882.2 655.7 L882.7 652.7 L883.2 649.8 L883.7 646.8 L884.2 643.8 L884.7 640.9 L885.2 637.9 L885.7 635.0 L886.2 632.0 L886.7 629.1 L887.2 626.1 L887.7 623.1 L888.2 620.2 L888.7 617.2 L889.2 614.3 L889.7 611.3 L890.2 608.4 L890.7 605.4 L891.2 602.4 L891.8 599.5 L892.3 596.5 L892.8 593.6 L893.3 590.6 L893.8 587.7 L894.3 584.7 L894.8 581.7 L895.3 578.8 L895.8 575.8 L896.3 572.9 L896.8 569.9 L897.3 567.0 L897.8 564.0 L898.3 561.0 L898.8 558.1 L899.2 555.1 L899.7 552.2 L900.2 549.2 L900.7 546.2 L901.1 543.3 L901.6 540.3 L902.1 537.3 L902.6 534.4 L903.0 531.4 L903.5 528.4 L903.9 525.5 L904.4 522.5 L904.9 519.6 L905.3 516.6 L905.8 513.6 L906.2 510.7 L906.7 507.7 L907.2 504.7 L907.6 501.8 L908.1 498.8 L908.5 495.8 L909.0 492.9 L909.5 489.9 L909.9 486.9 L910.4 484.0 L910.9 481.0 L911.4 478.1 L911.8 475.1 L912.3 472.1 L912.8 469.2 L913.3 466.2 L913.8 463.3 L914.3 460.3 L914.8 457.3 L915.3 454.4 L915.8 451.4 L916.3 448.5 L916.8 445.5 L917.4 442.6 L917.9 439.6 L918.4 436.7 L919.0 433.7 L919.5 430.8 L920.1 427.8 L920.7 424.9 L921.2 421.9 L921.8 419.0 L922.4 416.0 L923.0 413.1 L923.6 410.2 L924.2 407.2 L924.8 404.3 L925.4 401.3 L926.0 398.4 L926.6 395.5 L927.2 392.5 L927.8 389.6 L928.4 386.7 L929.1 383.7 L929.7 380.8 L930.3 377.8 L930.9 374.9 L931.5 372.0 L932.1 369.0 L932.7 366.1 L933.4 363.2 L934.0 360.2 L934.6 357.3 L935.2 354.3 L935.8 351.4 L936.4 348.5 L937.0 345.5 L937.6 342.6 L938.2 339.7 L938.8 336.7 L939.4 333.8 L940.0 330.8 L940.6 327.9 L941.2 325.0 L941.8 322.0 L942.5 319.1 L943.1 316.2 L943.7 313.2 L944.4 310.3 L945.1 307.4 L945.8 304.5 L946.5 301.5 L947.2 298.6 L947.9 295.7 L948.7 292.8 L949.4 289.9 L950.2 287.0 L951.0 284.1 L951.9 281.3 L952.7 278.4 L953.6 275.5 L954.5 272.7 L955.5 269.8 L956.4 267.0 L957.4 264.1 L958.4 261.3 L959.4 258.5 L960.5 255.7 L961.5 252.9 L962.6 250.1 L963.7 247.2 L964.7 244.4 L965.8 241.6 L966.9 238.8 L967.9 236.0 L969.1 233.3 L970.2 230.5 L971.5 227.8 L972.9 225.1 L974.5 222.6 L976.1 220.1 L978.1 217.8 L980.4 215.9 L983.2 215.2 L985.8 216.6 L987.9 218.7 L989.6 221.2 L991.2 223.7 L992.7 226.3 L994.2 229.0 L995.5 231.6 L996.8 234.3 L998.1 237.1 L999.3 239.8 L1000.4 242.6 L1001.4 245.4 L1002.4 248.2 L1003.4 251.1 L1004.3 253.9 L1005.2 256.8 L1006.1 259.7 L1006.9 262.6 L1007.7 265.4 L1008.6 268.3 L1009.4 271.2 L1010.2 274.1 L1011.1 277.0 L1012.0 279.8 L1012.8 282.7 L1013.7 285.6 L1014.6 288.4 L1015.5 291.3 L1016.4 294.2 L1017.3 297.0 L1018.2 299.9 L1019.1 302.8 L1019.9 305.6 L1020.8 308.5 L1021.7 311.3 L1022.6 314.2 L1023.5 317.1 L1024.4 320.0 L1025.2 322.8 L1026.1 325.7 L1027.0 328.6 L1027.8 331.4 L1028.7 334.3 L1029.5 337.2 L1030.3 340.1 L1031.2 343.0 L1032.0 345.8 L1032.9 348.7 L1033.7 351.6 L1034.6 354.5 L1035.4 357.4 L1036.2 360.2 L1037.1 363.1 L1037.9 366.0 L1038.8 368.9 L1039.7 371.7 L1040.5 374.6 L1041.4 377.5 L1042.3 380.3 L1043.2 383.2 L1044.1 386.1 L1045.0 388.9 L1045.9 391.8 L1046.8 394.7 L1047.7 397.5 L1048.7 400.4 L1049.6 403.2 L1050.6 406.0 L1051.6 408.9 L1052.6 411.7 L1053.6 414.5 L1054.6 417.3 L1055.6 420.2 L1056.7 423.0 L1057.8 425.8 L1058.9 428.5 L1060.0 431.3 L1061.2 434.1 L1062.5 436.8 L1063.8 439.5 L1065.1 442.2 L1066.5 444.9 L1067.9 447.5 L1069.4 450.1 L1071.0 452.6 L1072.7 455.1 L1074.4 457.6 L1076.2 460.0 L1078.1 462.3 L1080.1 464.6 L1082.1 466.8 L1084.1 469.0 L1086.2 471.2 L1088.3 473.3 L1090.4 475.4 L1092.5 477.6 L1094.6 479.7 L1096.7 481.9 L1098.7 484.1 L1100.7 486.3 L1102.7 488.6 L1104.7 490.8 L1106.7 493.1 L1108.7 495.3 L1110.8 497.5 L1112.9 499.5 L1115.1 501.6 L1117.5 503.5 L1119.9 505.3 L1122.4 506.9 L1125.0 508.4 L1127.7 509.6 L1130.6 510.4 L1133.6 510.8 L1136.6 510.8 L1139.5 510.4 L1142.4 509.5 L1145.0 508.0 L1147.3 506.1 L1149.5 504.0 L1151.5 501.8 L1153.5 499.5 L1155.5 497.3 L1157.7 495.3 L1160.1 493.5 L1162.8 492.2 L1165.7 491.4 L1168.7 491.2 L1171.6 491.6 L1174.5 492.6 L1177.2 493.9 L1179.7 495.5 L1182.2 497.1 L1184.7 498.9 L1187.1 500.7 L1189.5 502.4 L1191.9 504.2 L1194.4 506.0 L1196.8 507.7 L1199.2 509.5 L1201.7 511.2 L1204.1 513.0 L1206.5 514.8 L1208.8 516.7 L1211.1 518.6 L1213.4 520.5 L1215.6 522.6 L1217.8 524.6 L1219.9 526.8 L1221.8 529.1 L1223.7 531.4 L1225.5 533.8 L1227.2 536.3 L1228.8 538.8 L1230.5 541.3 L1232.1 543.9 L1233.7 546.4 L1235.3 548.9 L1237.0 551.4 L1238.7 553.8 L1240.5 556.2 L1242.4 558.6 L1244.4 560.8 L1246.5 563.0 L1248.7 565.0 L1251.0 566.9 L1253.5 568.6 L1256.2 570.0 L1258.9 571.1 L1261.8 571.9 L1264.8 572.4 L1267.8 572.7 L1270.8 572.8 L1273.8 572.9 L1276.8 572.8 L1279.8 572.8 L1282.8 572.7 L1285.7 572.6 L1288.7 572.4 L1291.7 572.1 L1294.7 571.6 L1297.6 570.9 L1300.5 570.0 L1303.2 568.9 L1306.0 567.6 L1308.6 566.2 L1311.2 564.8 L1313.8 563.3 L1316.4 561.7 L1319.0 560.2 L1321.6 558.7 L1324.2 557.3 L1326.9 555.9 L1329.7 554.7 L1332.5 553.7 L1335.3 552.8 L1338.3 552.2 L1341.3 552.0 L1344.3 552.2 L1347.2 552.9 L1349.9 554.1 L1352.5 555.7 L1354.9 557.5 L1357.1 559.4 L1359.3 561.5 L1361.5 563.6 L1363.6 565.7 L1365.8 567.8 L1368.0 569.8 L1370.3 571.7 L1372.6 573.6 L1375.0 575.4 L1377.6 577.0 L1380.2 578.5 L1382.9 579.7 L1385.7 580.7 L1388.6 581.4 L1391.6 581.7 L1394.6 581.5 L1397.6 580.9 L1400.4 580.1 L1403.2 579.0 L1406.0 577.8 L1408.7 576.5 L1411.4 575.2 L1414.1 573.8 L1416.8 572.6 L1419.5 571.3 L1422.3 570.3 L1425.2 569.4 L1428.1 568.9 L1431.1 568.6 L1434.1 568.5 L1437.1 568.7 L1440.1 569.1 L1443.1 569.5 L1446.0 570.1 L1449.0 570.6 L1451.9 571.2 L1454.8 571.8 L1457.8 572.3 L1460.8 572.7 L1463.8 573.0 L1466.8 573.1 L1469.8 573.1 L1472.7 572.8 L1475.7 572.3 L1478.6 571.5 L1481.4 570.5 L1484.2 569.4 L1486.9 568.2 L1489.6 566.8 L1491.0 566.0" stroke="#000000"/>
<path d="M45.0 568.0 L48.0 568.3 L51.0 568.5 L54.0 568.5 L57.0 568.3 L60.0 568.0 L62.9 567.7 L65.9 567.2 L68.9 566.8 L71.8 566.2 L74.8 565.7 L77.7 565.3 L80.7 564.8 L83.7 564.5 L86.7 564.2 L89.7 564.0 L92.7 564.0 L95.7 564.2 L98.6 564.5 L101.6 564.9 L104.6 565.5 L107.5 566.1 L110.4 566.8 L113.3 567.5 L116.2 568.3 L119.1 569.2 L122.0 570.0 L124.9 570.9 L127.7 571.7 L130.6 572.5 L133.5 573.3 L136.4 574.1 L139.3 574.8 L142.2 575.5 L145.2 576.1 L148.1 576.7 L151.1 577.2 L154.0 577.7 L157.0 578.1 L160.0 578.4 L163.0 578.6 L166.0 578.7 L169.0 578.8 L172.0 578.7 L175.0 578.7 L178.0 578.6 L181.0 578.5 L184.0 578.5 L187.0 578.7 L190.0 579.1 L192.9 579.7 L195.7 580.8 L198.3 582.2 L200.8 583.9 L203.0 585.9 L205.1 588.1 L207.0 590.4 L208.8 592.8 L210.6 595.2 L212.3 597.7 L214.0 600.2 L215.7 602.6 L217.4 605.1 L219.3 607.5 L221.1 609.8 L222.9 612.2 L224.8 614.6 L226.5 617.0 L228.2 619.5 L229.8 622.0 L231.4 624.6 L233.0 627.1 L234.5 629.7 L236.2 632.2 L237.9 634.7 L239.7 637.1 L241.6 639.4 L243.6 641.6 L245.8 643.6 L248.2 645.4 L250.8 647.0 L253.4 648.4 L256.2 649.5 L259.1 650.4 L262.0 651.0 L265.0 651.4 L268.0 651.6 L271.0 651.5 L274.0 651.1 L276.9 650.5 L279.7 649.5 L282.4 648.2 L285.0 646.6 L287.3 644.8 L289.5 642.7 L291.6 640.5 L293.5 638.2 L295.2 635.8 L296.9 633.3 L298.5 630.8 L300.1 628.2 L301.5 625.6 L303.0 623.0 L304.4 620.3 L305.9 617.7 L307.3 615.0 L308.7 612.4 L310.1 609.7 L311.4 607.1 L312.8 604.4 L314.1 601.7 L315.5 599.0 L316.8 596.3 L318.1 593.6 L319.4 590.9 L320.7 588.2 L322.0 585.5 L323.3 582.8 L324.5 580.1 L325.8 577.3 L327.0 574.6 L328.3 571.9 L329.5 569.1 L330.8 566.4 L332.0 563.7 L333.2 560.9 L334.4 558.2 L335.7 555.5 L336.9 552.7 L338.1 550.0 L339.4 547.3 L340.6 544.5 L341.9 541.8 L343.1 539.1 L344.4 536.3 L345.6 533.6 L346.9 530.9 L348.3 528.2 L349.6 525.6 L351.0 522.9 L352.4 520.2 L353.9 517.6 L355.4 515.0 L356.9 512.5 L358.5 509.9 L360.2 507.4 L361.9 505.0 L363.6 502.5 L365.3 500.0 L367.1 497.6 L368.8 495.1 L370.5 492.7 L372.2 490.2 L374.0 487.8 L375.7 485.4 L377.6 483.0 L379.6 480.8 L381.8 478.7 L384.1 476.8 L386.6 475.2 L389.4 474.0 L392.3 473.2 L395.2 472.9 L398.2 473.0 L401.2 473.5 L404.0 474.5 L406.7 475.9 L409.1 477.6 L411.4 479.6 L413.5 481.7 L415.4 484.0 L417.3 486.4 L419.1 488.8 L420.8 491.3 L422.5 493.7 L424.2 496.2 L425.9 498.7 L427.6 501.1 L429.3 503.6 L431.1 506.0 L432.9 508.4 L434.7 510.8 L436.5 513.2 L438.3 515.6 L440.2 517.9 L442.1 520.3 L444.0 522.6 L445.9 524.8 L447.9 527.1 L449.9 529.3 L452.0 531.5 L454.1 533.6 L456.3 535.7 L458.5 537.8 L460.7 539.7 L463.0 541.6 L465.4 543.5 L467.8 545.3 L470.3 546.9 L472.9 548.5 L475.5 550.0 L478.1 551.4 L480.9 552.6 L483.6 553.7 L486.5 554.7 L489.3 555.6 L492.2 556.4 L495.1 557.1 L498.1 557.8 L501.0 558.3 L504.0 558.8 L507.0 559.2 L509.9 559.6 L512.9 559.9 L515.9 560.2 L518.9 560.5 L521.9 560.8 L524.9 561.0 L527.9 561.3 L530.8 561.5 L533.8 561.8 L536.8 562.0 L539.8 562.3 L542.8 562.7 L545.8 563.0 L548.7 563.4 L551.7 563.9 L554.7 564.5 L557.6 565.1 L560.5 565.7 L563.4 566.5 L566.3 567.4 L569.1 568.4 L571.9 569.4 L574.7 570.6 L577.4 571.8 L580.1 573.1 L582.8 574.4 L585.6 575.7 L588.3 577.0 L591.0 578.2 L593.8 579.4 L596.6 580.5 L599.4 581.4 L602.3 582.3 L605.2 583.0 L608.1 583.5 L611.1 583.8 L614.1 583.9 L617.1 583.8 L620.1 583.5 L623.1 583.2 L626.1 582.9 L629.1 582.8 L632.1 583.0 L635.0 583.7 L637.7 585.0 L640.1 586.7 L642.4 588.7 L644.5 590.8 L646.6 593.0 L648.6 595.1 L650.7 597.4 L652.6 599.6 L654.6 601.9 L656.5 604.2 L658.4 606.5 L660.3 608.9 L662.1 611.2 L663.9 613.6 L665.7 616.0 L667.5 618.5 L669.2 620.9 L670.9 623.4 L672.6 625.9 L674.3 628.4 L675.9 630.9 L677.6 633.4 L679.2 635.9 L680.8 638.4 L682.4 641.0 L684.0 643.5 L685.5 646.1 L687.0 648.7 L688.6 651.3 L690.1 653.9 L691.5 656.5 L693.0 659.1 L694.4 661.7 L695.9 664.4 L697.3 667.0 L698.7 669.7 L700.0 672.3 L701.4 675.0 L702.7 677.7 L704.0 680.4 L705.3 683.1 L706.6 685.8 L707.8 688.6 L709.1 691.3 L710.3 694.0 L711.5 696.8 L712.7 699.5 L713.8 702.3 L715.0 705.1 L716.1 707.8 L717.3 710.6 L718.4 713.4 L719.5 716.2 L720.5 719.0 L721.6 721.8 L722.7 724.6 L723.7 727.4 L724.7 730.3 L725.7 733.1 L726.7 735.9 L727.7 738.8 L728.7 741.6 L729.6 744.4 L730.5 747.3 L731.5 750.1 L732.4 753.0 L733.3 755.9 L734.2 758.7 L735.1 761.6 L735.9 764.5 L736.8 767.3 L737.6 770.2 L738.5 773.1 L739.3 776.0 L740.1 778.9 L740.9 781.8 L741.7 784.6 L742.5 787.5 L743.3 790.4 L744.1 793.3 L744.8 796.2 L745.6 799.1 L746.3 802.0 L747.1 805.0 L747.8 807.9 L748.5 810.8 L749.3 813.7 L750.0 816.6 L750.7 819.5 L751.4 822.4 L752.1 825.3 L752.8 828.3 L753.5 831.2 L754.1 834.1 L754.8 837.0 L755.5 840.0 L756.2 842.9 L756.8 845.8 L757.5 848.7 L758.2 851.7 L758.8 854.6 L759.5 857.5 L760.2 860.4 L760.8 863.4 L761.5 866.3 L762.2 869.2 L762.8 872.1 L763.5 875.1 L764.1 878.0 L764.8 880.9 L765.5 883.8 L766.1 886.8 L766.8 889.7 L767.5 892.6 L768.2 895.5 L768.9 898.4 L769.6 901.4 L770.3 904.3 L771.0 907.2 L771.7 910.1 L772.5 913.0 L773.2 915.9 L774.0 918.8 L774.8 921.7 L775.6 924.6 L776.4 927.5 L777.3 930.4 L778.2 933.2 L779.2 936.0 L780.3 938.8 L781.6 941.5 L783.0 944.2 L784.6 946.7 L786.3 949.2 L788.1 951.6 L790.3 953.7 L792.7 955.3 L795.7 955.8 L798.4 954.6 L800.7 952.7 L802.6 950.4 L804.3 947.9 L805.7 945.2 L806.9 942.5 L808.1 939.7 L809.3 937.0 L810.5 934.2 L811.7 931.5 L812.9 928.8 L814.2 926.0 L815.4 923.3 L816.7 920.6 L818.0 917.9 L819.3 915.2 L820.5 912.4 L821.8 909.7 L823.0 907.0 L824.3 904.3 L825.5 901.5 L826.7 898.8 L827.9 896.0 L829.1 893.3 L830.2 890.5 L831.4 887.7 L832.4 884.9 L833.5 882.1 L834.5 879.3 L835.4 876.4 L836.4 873.6 L837.3 870.7 L838.1 867.9 L839.0 865.0 L839.8 862.1 L840.5 859.2 L841.3 856.3 L842.0 853.4 L842.7 850.4 L843.4 847.5 L844.1 844.6 L844.7 841.7 L845.3 838.7 L845.9 835.8 L846.6 832.9 L847.1 829.9 L847.7 827.0 L848.3 824.0 L848.9 821.1 L849.4 818.1 L850.0 815.2 L850.5 812.2 L851.0 809.3 L851.5 806.3 L852.0 803.4 L852.5 800.4 L853.0 797.5 L853.5 794.5 L854.0 791.5 L854.5 788.6 L855.0 785.6 L855.5 782.6 L855.9 779.7 L856.4 776.7 L856.8 773.8 L857.3 770.8 L857.8 767.8 L858.2 764.9 L858.7 761.9 L859.1 758.9 L859.6 756.0 L860.0 753.0 L860.4 750.0 L860.9 747.1 L861.3 744.1 L861.8 741.1 L862.2 738.2 L862.7 735.2 L863.1 732.2 L863.6 729.3 L864.1 726.3 L864.5 723.3 L865.0 720.4 L865.5 717.4 L865.9 714.4 L866.4 711.5 L866.9 708.5 L867.4 705.6 L867.9 702.6 L868.4 699.6 L868.9 696.7 L869.4 693.7 L869.9 690.8 L870.5 687.8 L871.0 684.9 L871.5 681.9 L872.1 679.0 L872.6 676.0 L873.2 673.1 L873.8 670.1 L874.3 667.2 L874.9 664.2 L875.5 661.3 L876.1 658.4 L876.7 655.4 L877.2 652.5 L877.8 649.5 L878.4 646.6 L879.0 643.7 L879.6 640.7 L880.2 637.8 L880.8 634.8 L881.4 631.9 L882.0 629.0 L882.6 626.0 L883.2 623.1 L883.8 620.1 L884.4 617.2 L885.0 614.3 L885.6 611.3 L886.2 608.4 L886.8 605.4 L887.3 602.5 L887.9 599.5 L888.5 596.6 L889.1 593.7 L889.7 590.7 L890.2 587.8 L890.8 584.8 L891.3 581.9 L891.9 578.9 L892.4 576.0 L893.0 573.0 L893.5 570.1 L894.0 567.1 L894.6 564.2 L895.1 561.2 L895.6 558.2 L896.1 555.3 L896.6 552.3 L897.0 549.4 L897.5 546.4 L898.0 543.4 L898.5 540.5 L898.9 537.5 L899.4 534.6 L899.8 531.6 L900.3 528.6 L900.7 525.7 L901.2 522.7 L901.6 519.7 L902.1 516.8 L902.5 513.8 L902.9 510.8 L903.4 507.8 L903.8 504.9 L904.2 501.9 L904.6 498.9 L905.1 496.0 L905.5 493.0 L905.9 490.0 L906.3 487.1 L906.7 484.1 L907.2 481.1 L907.6 478.1 L908.0 475.2 L908.4 472.2 L908.9 469.2 L909.3 466.3 L909.7 463.3 L910.1 460.3 L910.6 457.4 L911.0 454.4 L911.4 451.4 L911.9 448.5 L912.3 445.5 L912.8 442.5 L913.2 439.6 L913.7 436.6 L914.1 433.6 L914.6 430.7 L915.1 427.7 L915.5 424.7 L916.0 421.8 L916.5 418.8 L917.0 415.9 L917.5 412.9 L918.0 409.9 L918.5 407.0 L919.0 404.0 L919.5 401.1 L920.0 398.1 L920.5 395.2 L921.1 392.2 L921.6 389.3 L922.2 386.3 L922.7 383.4 L923.3 380.4 L923.8 377.5 L924.4 374.5 L925.0 371.6 L925.5 368.6 L926.1 365.7 L926.7 362.7 L927.3 359.8 L927.9 356.9 L928.5 353.9 L929.1 351.0 L929.7 348.0 L930.4 345.1 L931.0 342.2 L931.6 339.2 L932.3 336.3 L932.9 333.4 L933.6 330.5 L934.2 327.5 L934.9 324.6 L935.6 321.7 L936.3 318.8 L937.0 315.8 L937.7 312.9 L938.4 310.0 L939.1 307.1 L939.8 304.2 L940.5 301.3 L941.3 298.4 L942.0 295.5 L942.7 292.6 L943.5 289.7 L944.3 286.7 L945.0 283.8 L945.8 281.0 L946.6 278.1 L947.4 275.2 L948.2 272.3 L949.0 269.4 L949.8 266.5 L950.6 263.6 L951.4 260.7 L952.3 257.8 L953.1 255.0 L954.0 252.1 L954.8 249.2 L955.7 246.3 L956.6 243.5 L957.4 240.6 L958.3 237.7 L959.2 234.9 L960.1 232.0 L961.0 229.1 L961.9 226.3 L962.7 223.4 L963.6 220.5 L964.5 217.7 L965.4 214.8 L966.2 211.9 L967.1 209.0 L967.9 206.2 L968.7 203.3 L969.6 200.4 L970.4 197.5 L971.1 194.6 L971.9 191.7 L972.7 188.8 L973.4 185.9 L974.2 183.0 L975.1 180.1 L976.1 177.3 L977.3 174.5 L978.6 171.8 L980.1 169.3 L981.9 166.8 L984.1 164.9 L987.0 164.9 L989.3 166.8 L991.1 169.2 L992.7 171.7 L994.1 174.4 L995.4 177.1 L996.5 179.9 L997.6 182.7 L998.5 185.5 L999.4 188.4 L1000.2 191.3 L1000.9 194.2 L1001.7 197.1 L1002.4 200.0 L1003.1 202.9 L1003.9 205.8 L1004.6 208.7 L1005.5 211.6 L1006.3 214.5 L1007.2 217.3 L1008.2 220.2 L1009.1 223.0 L1010.1 225.9 L1011.1 228.7 L1012.1 231.5 L1013.2 234.3 L1014.2 237.2 L1015.2 240.0 L1016.2 242.8 L1017.3 245.6 L1018.3 248.4 L1019.3 251.3 L1020.2 254.1 L1021.2 257.0 L1022.1 259.8 L1023.1 262.7 L1024.0 265.5 L1024.9 268.4 L1025.8 271.2 L1026.7 274.1 L1027.5 277.0 L1028.4 279.9 L1029.2 282.7 L1030.1 285.6 L1030.9 288.5 L1031.7 291.4 L1032.5 294.3 L1033.4 297.1 L1034.2 300.0 L1035.0 302.9 L1035.8 305.8 L1036.6 308.7 L1037.4 311.6 L1038.2 314.5 L1039.0 317.4 L1039.9 320.3 L1040.7 323.1 L1041.5 326.0 L1042.3 328.9 L1043.2 331.8 L1044.0 334.7 L1044.9 337.5 L1045.7 340.4 L1046.6 343.3 L1047.5 346.2 L1048.4 349.0 L1049.3 351.9 L1050.2 354.7 L1051.1 357.6 L1052.1 360.4 L1053.0 363.3 L1054.0 366.1 L1055.0 368.9 L1056.0 371.8 L1057.1 374.6 L1058.1 377.4 L1059.2 380.2 L1060.3 383.0 L1061.4 385.8 L1062.6 388.5 L1063.8 391.3 L1065.0 394.0 L1066.2 396.8 L1067.4 399.5 L1068.7 402.2 L1070.0 404.9 L1071.4 407.6 L1072.8 410.2 L1074.2 412.9 L1075.6 415.5 L1077.1 418.1 L1078.6 420.7 L1080.2 423.3 L1081.7 425.8 L1083.4 428.4 L1085.0 430.9 L1086.7 433.3 L1088.5 435.8 L1090.2 438.2 L1092.1 440.6 L1093.9 442.9 L1095.8 445.3 L1097.7 447.6 L1099.7 449.8 L1101.7 452.1 L1103.7 454.3 L1105.8 456.5 L1107.9 458.6 L1110.0 460.8 L1112.1 462.9 L1114.2 465.0 L1116.4 467.1 L1118.5 469.2 L1120.7 471.3 L1122.8 473.4 L1125.1 475.4 L1127.4 477.3 L1129.9 478.9 L1132.7 480.0 L1135.6 480.4 L1138.6 480.1 L1141.5 479.1 L1144.1 477.7 L1146.4 475.8 L1148.5 473.7 L1150.4 471.3 L1152.2 468.9 L1154.0 466.6 L1156.0 464.3 L1158.2 462.2 L1160.7 460.7 L1163.6 459.8 L1166.6 459.8 L1169.5 460.4 L1172.3 461.5 L1175.0 462.9 L1177.4 464.6 L1179.7 466.6 L1181.8 468.7 L1183.9 470.9 L1185.8 473.1 L1187.8 475.4 L1189.8 477.7 L1191.8 479.8 L1194.0 481.9 L1196.3 483.8 L1198.7 485.6 L1201.2 487.3 L1203.7 489.0 L1206.2 490.6 L1208.8 492.2 L1211.3 493.8 L1213.8 495.4 L1216.3 497.1 L1218.6 499.0 L1220.9 500.9 L1223.1 503.0 L1225.1 505.2 L1227.0 507.5 L1228.9 509.9 L1230.7 512.3 L1232.4 514.8 L1234.1 517.2 L1235.8 519.7 L1237.5 522.2 L1239.1 524.7 L1240.9 527.1 L1242.6 529.5 L1244.5 531.9 L1246.4 534.2 L1248.4 536.4 L1250.6 538.5 L1252.8 540.5 L1255.2 542.3 L1257.8 543.9 L1260.5 545.2 L1263.3 546.2 L1266.2 546.9 L1269.2 547.4 L1272.2 547.7 L1275.2 547.8 L1278.2 547.8 L1281.2 547.8 L1284.2 547.6 L1287.1 547.4 L1290.1 547.1 L1293.1 546.8 L1296.1 546.5 L1299.1 546.3 L1302.1 545.9 L1305.0 545.1 L1307.7 543.9 L1310.3 542.5 L1312.8 540.8 L1315.2 539.0 L1317.5 537.0 L1319.7 535.0 L1321.9 532.9 L1324.1 530.9 L1326.4 529.0 L1328.8 527.2 L1331.4 525.6 L1334.1 524.3 L1336.9 523.4 L1339.9 522.9 L1342.9 523.1 L1345.8 523.8 L1348.5 524.9 L1351.2 526.4 L1353.7 528.1 L1356.0 529.9 L1358.2 532.0 L1360.3 534.2 L1362.2 536.4 L1364.2 538.7 L1366.1 541.0 L1368.0 543.4 L1369.9 545.6 L1372.0 547.8 L1374.1 549.9 L1376.4 551.8 L1378.9 553.6 L1381.5 555.1 L1384.1 556.4 L1386.9 557.5 L1389.8 558.3 L1392.8 558.8 L1395.8 559.0 L1398.8 558.8 L1401.7 558.1 L1404.5 557.1 L1407.2 555.8 L1409.8 554.3 L1412.4 552.8 L1414.9 551.1 L1417.5 549.6 L1420.1 548.2 L1422.9 547.0 L1425.8 546.2 L1428.8 546.0 L1431.7 546.2 L1434.7 546.9 L1437.5 547.9 L1440.2 549.2 L1442.8 550.6 L1445.4 552.2 L1447.9 553.8 L1450.5 555.2 L1453.2 556.6 L1456.1 557.5 L1459.0 558.0 L1462.0 557.8 L1464.9 557.0 L1467.7 555.8 L1470.3 554.5 L1473.0 553.0 L1475.6 551.5 L1478.2 550.1 L1480.9 548.7 L1483.6 547.5 L1486.4 546.4 L1489.3 545.6 L1489.7 545.5" stroke="#dc1c28"/>
<line x1="41.8" y1="568.4" x2="1516" y2="576.6" stroke="#111" stroke-width="4.5" stroke-dasharray="20 14.6" stroke-dashoffset="0" stroke-linecap="butt"/>

</g>

<rect x="42" y="93.5" width="5" height="892.5" fill="#000"/>
<rect x="47" y="93.5" width="3" height="887.5" fill="#808080"/>
<rect x="50" y="978" width="1438" height="3" fill="#e4e4e4"/>
<rect x="42" y="981" width="1447" height="5" fill="#000"/>
<rect x="42" y="986" width="1447" height="2.6" fill="#b0b0b0"/>
<g fill="#000">
<rect x="112.4" y="986" width="2.3" height="6"/>
<rect x="537.1" y="986" width="2.3" height="6"/>
<rect x="961.4" y="986" width="2.3" height="6"/>
<rect x="1386.1" y="986" width="2.3" height="6"/>
</g>
<g fill="#555">
<rect x="58.3" y="986" width="2.3" height="2.6"/>
<rect x="322.6" y="986" width="2.3" height="3.5"/>
<rect x="748.1" y="986" width="2.3" height="3.5"/>
<rect x="1173.9" y="986" width="2.3" height="3.5"/>
</g>
<g fill="#000">
<rect x="98.6" y="141" width="5.6" height="75"/>
<rect x="89.7" y="140.6" width="23" height="5"/>
<rect x="89.7" y="211" width="23" height="5"/>
</g>


<text y="193.5" font-size="64" fill="#000" stroke-width="0.8"><tspan x="129.7" font-size="57" stroke-width="0.3" font-family="'Noto Serif CJK SC', serif">Δ</tspan><tspan x="172.8 190 230 250 284.4 319.3 339 374.8 411.2 440 461 503.1 521.9 567.3">A = 0.005 A.U.</tspan></text>
<g font-size="69.5" fill="#000" stroke-width="0">
<text y="1063.5" x="37.2 75.6 113.9 151.9">1800</text>
<text y="1063.5" x="459.2 497.9 536.6 574.9">1760</text>
<text y="1063.5" x="888.9 927.9 967.2 1006.6">1720</text>
<text y="1063.5" x="1313.1 1352.1 1391.2 1430.2">1680</text>
</g>
<g fill="#000" font-size="80.5" stroke-width="0">
<text y="1180" x="485.7">Wavenumber</text>
<text y="1180" x="988.3">(</text>
<text y="1180" x="1013.9">cm</text>
<text y="1154.8" x="1119.8" font-size="52">-1</text>
<text y="1180" x="1174.4">)</text>
</g>
<g font-size="64" stroke-width="0.6">
<text y="123" x="1264 1300.8 1336 1350.3 1378.1" fill="#00985a">35 °C</text>
<text y="195.5" x="1264.5 1300 1317.2 1343" fill="#1c1caa">0 °C</text>
<text y="269.5" fill="#682a88"><tspan x="1244.6" dy="2.6">-</tspan><tspan x="1265.8 1304.2 1335 1353.6 1380.8" dy="-2.6">20 °C</tspan></text>
<text y="342.5" fill="#000"><tspan x="1244.6" dy="2.6">-</tspan><tspan x="1268.1 1304.8 1335 1353.6 1380.8" dy="-2.6">40 °C</tspan></text>
<text y="414.5" fill="#d8202a"><tspan x="1244.6" dy="2.6">-</tspan><tspan x="1268.3 1304.8 1335 1354.2 1380.8" dy="-2.6">50 °C</tspan></text>
</g>

</svg>
</body></html>
